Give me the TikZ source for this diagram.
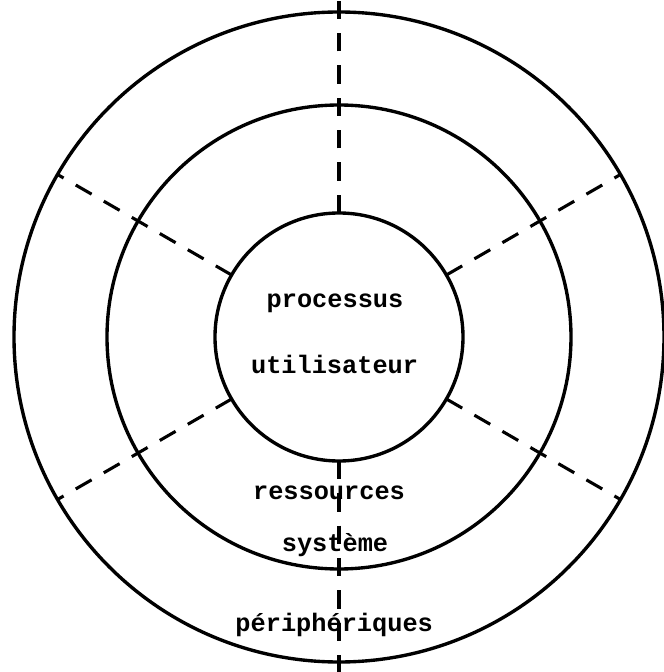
\documentclass[tikz,border=0pt]{standalone}
\usepackage{fontspec}
\setmonofont{Liberation Mono}
\usepackage{xcolor}
\usepackage{tikz}

\tikzset{
  ring/.style={draw, circle, line width=2.4pt, inner sep=0pt, outer sep=0pt},
  spoke/.style={line width=2.2pt, dash pattern=on 13pt off 10pt},
  label/.style={font=\ttfamily\bfseries\fontsize{18}{20}\selectfont, anchor=base, inner sep=0pt}
}

\begin{document}
\begin{tikzpicture}
  \useasboundingbox (-8.475,-8.375) rectangle (8.125,8.425);
  % three rings
  \node[ring, minimum size=16.25cm] (outer) at (0,0) {};
  \node[ring, minimum size=11.6cm] (middle) at (0,0) {};
  \node[ring, minimum size=6.2cm] (inner) at (0,0) {};
  \coordinate (top) at (0,8.425);
  \coordinate (bottom) at (0,-8.375);
  % dashed separations
  \draw[spoke] (inner.90) -- (top);
  \draw[spoke] (inner.270) -- (bottom);
  \foreach \a in {30,150,210,330}
    \draw[spoke] (inner.\a) -- (outer.\a);
  % texts
  \node[label] (proc) at (-0.1,0.725) {processus};
  \node[label] (user) at (-0.11,-0.9) {utilisateur};
  \node[label] (res) at (-0.25,-4.07) {ressources};
  \node[label] (sys) at (-0.1,-5.37) {système};
  \node[label] (peri) at (-0.12,-7.37) {périphériques};
\end{tikzpicture}
\end{document}
